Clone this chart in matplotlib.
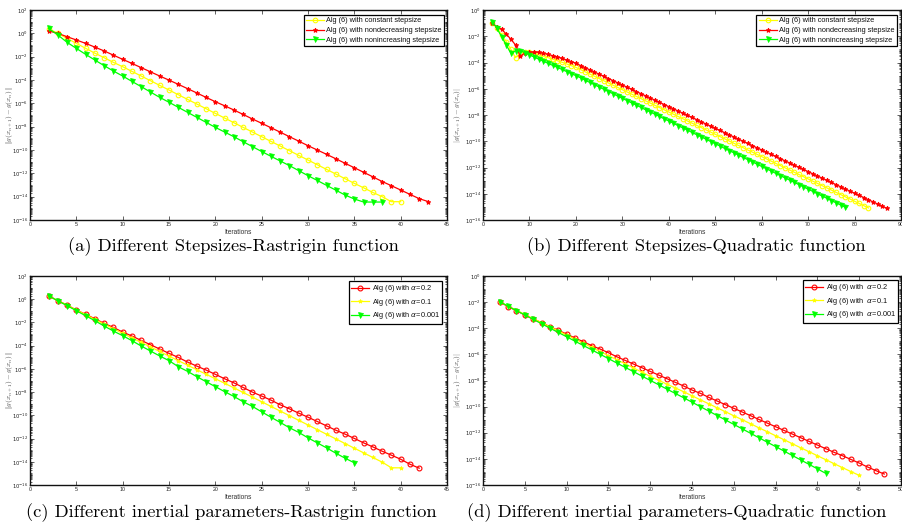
import numpy as np
import matplotlib
matplotlib.use("Agg")
import matplotlib.pyplot as plt
from matplotlib.ticker import FixedLocator, LogLocator, NullFormatter, FuncFormatter

plt.rcParams['font.family'] = ['Liberation Sans', 'DejaVu Sans']

# ---------------------------------------------------------------------------
# Residuals |g(x_{n+1}) - g(x_n)| stored as log10 values, one entry per iteration
# (first stored iteration is n = 2).
# ---------------------------------------------------------------------------

# (a) Rastrigin function, different stepsizes
rast_constant = [0.40, 0.00, -0.43, -0.86, -1.28, -1.70, -2.09, -2.49, -2.86, -3.26,
                 -3.66, -4.06, -4.46, -4.86, -5.26, -5.66, -6.06, -6.46, -6.86, -7.26,
                 -7.66, -8.06, -8.46, -8.86, -9.26, -9.66, -10.06, -10.46, -10.86, -11.26,
                 -11.66, -12.06, -12.46, -12.86, -13.24, -13.64, -14.00, -14.43, -14.43]
rast_nondecreasing = [0.20, 0.00, -0.29, -0.57, -0.86, -1.18, -1.51, -1.87, -2.23, -2.58,
                      -2.94, -3.30, -3.66, -4.01, -4.37, -4.74, -5.11, -5.49, -5.86, -6.21,
                      -6.57, -6.95, -7.34, -7.71, -8.09, -8.47, -8.86, -9.24, -9.63, -10.00,
                      -10.37, -10.75, -11.14, -11.52, -11.91, -12.30, -12.70, -13.06, -13.43,
                      -13.80, -14.17, -14.43]
rast_nonincreasing = [0.43, -0.14, -0.77, -1.29, -1.80, -2.29, -2.77, -3.23, -3.66, -4.12,
                      -4.57, -5.03, -5.49, -5.91, -6.34, -6.77, -7.20, -7.63, -8.06, -8.46,
                      -8.86, -9.29, -9.71, -10.13, -10.54, -10.94, -11.34, -11.77, -12.20,
                      -12.61, -13.03, -13.44, -13.86, -14.20, -14.46, -14.46, -14.46]

# (b) Quadratic function, different stepsizes
quad_constant = [-0.96, -1.40, -1.90, -2.41, -3.00, -3.63, -3.25, -3.17, -3.22, -3.30,
                 -3.43, -3.53, -3.63, -3.75, -3.86, -3.98, -4.11, -4.24, -4.37, -4.54,
                 -4.71, -4.88, -5.05, -5.22, -5.39, -5.56, -5.73, -5.90, -6.07, -6.24,
                 -6.41, -6.58, -6.75, -6.92, -7.09, -7.26, -7.43, -7.60, -7.77, -7.94,
                 -8.11, -8.28, -8.45, -8.62, -8.79, -8.96, -9.13, -9.30, -9.47, -9.64,
                 -9.81, -9.98, -10.15, -10.32, -10.49, -10.66, -10.83, -11.00, -11.17, -11.34,
                 -11.51, -11.68, -11.85, -12.02, -12.19, -12.36, -12.53, -12.70, -12.87, -13.04,
                 -13.21, -13.38, -13.55, -13.72, -13.89, -14.06, -14.23, -14.40, -14.57, -14.74,
                 -14.91, -15.08]
quad_nondecreasing = [-1.02, -1.27, -1.47, -1.83, -2.23, -2.66, -3.50, -3.30, -3.22, -3.20,
                      -3.22, -3.30, -3.38, -3.48, -3.58, -3.69, -3.81, -3.93, -4.06, -4.23,
                      -4.39, -4.56, -4.72, -4.89, -5.05, -5.22, -5.38, -5.55, -5.71, -5.88,
                      -6.04, -6.21, -6.37, -6.54, -6.70, -6.87, -7.03, -7.20, -7.36, -7.53,
                      -7.69, -7.86, -8.02, -8.19, -8.35, -8.52, -8.68, -8.85, -9.01, -9.18,
                      -9.34, -9.51, -9.67, -9.84, -10.00, -10.17, -10.33, -10.50, -10.66, -10.83,
                      -10.99, -11.16, -11.32, -11.49, -11.65, -11.82, -11.98, -12.15, -12.31, -12.48,
                      -12.64, -12.81, -12.97, -13.14, -13.30, -13.47, -13.63, -13.80, -13.96, -14.13,
                      -14.29, -14.46, -14.62, -14.79, -14.95, -15.12]
quad_nonincreasing = [-0.89, -1.40, -2.03, -2.66, -3.30, -3.10, -3.10, -3.25, -3.43, -3.58,
                      -3.75, -3.91, -4.06, -4.22, -4.37, -4.53, -4.69, -4.85, -5.00, -5.17,
                      -5.35, -5.52, -5.69, -5.87, -6.04, -6.21, -6.38, -6.56, -6.73, -6.90,
                      -7.08, -7.25, -7.42, -7.60, -7.77, -7.94, -8.11, -8.29, -8.46, -8.63,
                      -8.81, -8.98, -9.15, -9.33, -9.50, -9.67, -9.84, -10.02, -10.19, -10.36,
                      -10.54, -10.71, -10.88, -11.06, -11.23, -11.40, -11.57, -11.75, -11.92, -12.09,
                      -12.27, -12.44, -12.61, -12.79, -12.96, -13.13, -13.30, -13.48, -13.65, -13.82,
                      -14.00, -14.17, -14.34, -14.52, -14.69, -14.86, -15.03]

# (c) Rastrigin function, different inertial parameters
rast_alpha_02 = [0.30, -0.13, -0.50, -0.93, -1.30, -1.68, -2.08, -2.43, -2.83, -3.17,
                 -3.55, -3.92, -4.29, -4.66, -5.01, -5.41, -5.76, -6.10, -6.47, -6.85,
                 -7.20, -7.60, -8.00, -8.34, -8.69, -9.09, -9.44, -9.81, -10.16, -10.53,
                 -10.91, -11.28, -11.62, -11.99, -12.37, -12.72, -13.09, -13.43, -13.78,
                 -14.21, -14.55]
rast_alpha_01 = [0.30, -0.12, -0.52, -0.93, -1.33, -1.74, -2.14, -2.54, -2.94, -3.33,
                 -3.72, -4.11, -4.50, -4.90, -5.29, -5.68, -6.07, -6.46, -6.85, -7.24,
                 -7.63, -8.03, -8.43, -8.83, -9.23, -9.63, -10.03, -10.43, -10.83, -11.23,
                 -11.63, -12.03, -12.43, -12.83, -13.23, -13.63, -14.03, -14.52, -14.52]
rast_alpha_0001 = [0.30, -0.14, -0.55, -0.99, -1.42, -1.85, -2.31, -2.74, -3.14, -3.57,
                   -4.03, -4.46, -4.89, -5.29, -5.81, -6.21, -6.67, -7.10, -7.53, -7.96,
                   -8.37, -8.83, -9.23, -9.70, -10.16, -10.61, -11.07, -11.47, -11.94, -12.37,
                   -12.80, -13.26, -13.69, -14.09]

# (d) Quadratic function, different inertial parameters
quad_alpha_02 = [-1.97, -2.35, -2.65, -2.99, -3.29, -3.57, -3.88, -4.16, -4.44, -4.75,
                 -5.03, -5.33, -5.59, -5.87, -6.18, -6.46, -6.74, -7.02, -7.30, -7.58,
                 -7.86, -8.14, -8.42, -8.73, -8.98, -9.29, -9.57, -9.85, -10.13, -10.41,
                 -10.69, -10.98, -11.26, -11.54, -11.82, -12.10, -12.38, -12.66, -12.94, -13.22,
                 -13.50, -13.76, -14.04, -14.32, -14.62, -14.90, -15.16]
quad_alpha_01 = [-1.97, -2.30, -2.62, -2.94, -3.26, -3.58, -3.89, -4.20, -4.52, -4.83,
                 -5.15, -5.46, -5.78, -6.09, -6.41, -6.72, -7.04, -7.36, -7.68, -7.98,
                 -8.28, -8.57, -8.86, -9.17, -9.48, -9.78, -10.09, -10.39, -10.70, -11.00,
                 -11.31, -11.62, -11.92, -12.23, -12.53, -12.84, -13.15, -13.45, -13.76, -14.06,
                 -14.37, -14.67, -14.97, -15.26]
quad_alpha_0001 = [-1.97, -2.31, -2.65, -2.98, -3.32, -3.65, -3.99, -4.32, -4.65, -4.99,
                   -5.32, -5.65, -5.99, -6.32, -6.66, -6.99, -7.32, -7.66, -7.99, -8.32,
                   -8.66, -8.99, -9.32, -9.66, -10.00, -10.34, -10.68, -11.02, -11.36, -11.70,
                   -12.04, -12.38, -12.72, -13.06, -13.40, -13.74, -14.08, -14.42, -14.76, -15.11]

FIRST_ITER = 2

stepsize_labels = ["Alg (6) with constant stepsize",
                   "Alg (6) with nondecreasing stepsize",
                   "Alg (6) with nonincreasing stepsize"]
alpha_labels_c = [r"Alg (6) with $\alpha$=0.2",
                  r"Alg (6) with $\alpha$=0.1",
                  r"Alg (6) with $\alpha$=0.001"]
alpha_labels_d = [r"Alg (6) with  $\alpha$=0.2",
                  r"Alg (6) with  $\alpha$=0.1",
                  r"Alg (6) with  $\alpha$=0.001"]

captions = ["(a) Different Stepsizes-Rastrigin function",
            "(b) Different Stepsizes-Quadratic function",
            "(c) Different inertial parameters-Rastrigin function",
            "(d) Different inertial parameters-Quadratic function"]

RED, YEL, GRN = (1, 0, 0), (1, 1, 0), (0, 1, 0)

stepsize_styles = [dict(color=YEL, marker='o', mfc='none', ms=3.3, mew=0.8),
                   dict(color=RED, marker='*', ms=3.4, mew=0.7),
                   dict(color=GRN, marker='v', ms=3.6, mew=0.5)]
alpha_styles = [dict(color=RED, marker='o', mfc='none', ms=3.5, mew=0.8),
                dict(color=YEL, marker='*', ms=3.0, mew=0.6),
                dict(color=GRN, marker='v', ms=3.6, mew=0.5)]

W, H = 902, 531
fig = plt.figure(figsize=(W / 100, H / 100), dpi=100)


def px_axes(left, top, right, bottom):
    return fig.add_axes([left / W, 1 - bottom / H, (right - left) / W, (bottom - top) / H])


def log_fmt(v, pos):
    return r'$10^{%d}$' % int(round(np.log10(v)))


def setup(ax, xmax, xstep, ytop, ylabel, label_x):
    ax.set_yscale('log')
    ax.set_xlim(0, xmax)
    ax.set_ylim(1e-16, 10.0 ** ytop)
    ax.set_xticks(np.arange(0, xmax + 0.1, xstep))
    ax.yaxis.set_major_locator(FixedLocator([10.0 ** e for e in range(-16, ytop + 1, 2)]))
    ax.yaxis.set_major_formatter(FuncFormatter(log_fmt))
    ax.yaxis.set_minor_locator(LogLocator(base=10, subs=np.arange(1, 10), numticks=300))
    ax.yaxis.set_minor_formatter(NullFormatter())
    ax.tick_params(which='both', direction='in', top=True, right=True,
                   labelsize=3.8, pad=1.5, width=0.5, colors='#222222')
    ax.tick_params(which='major', length=3)
    ax.tick_params(which='minor', length=1.6)
    for s in ax.spines.values():
        s.set_linewidth(1.0)
        s.set_color('#111111')
    ax.set_xlabel('Iterations', fontsize=4.8, labelpad=1.5, color='#333333')
    ax.set_ylabel(ylabel, fontsize=5.3, color='#444444', math_fontfamily='cm')
    ax.yaxis.set_label_coords(label_x, 0.5)


def draw(ax, series, labels, styles, anchor):
    for vals, lab, st in zip(series, labels, styles):
        it = np.arange(FIRST_ITER, FIRST_ITER + len(vals))
        ax.plot(it, 10.0 ** np.asarray(vals), lw=0.9, label=lab, **st)
    leg = ax.legend(loc='upper right', bbox_to_anchor=anchor, borderaxespad=0,
                    fontsize=5.3, frameon=True, fancybox=False, edgecolor='black',
                    framealpha=1, borderpad=0.3, labelspacing=0.35, handlelength=2.5,
                    handletextpad=0.3)
    leg.get_frame().set_linewidth(0.9)
    for t in leg.get_texts():
        t.set_color('#111111')


ylab2 = r'$\|g(x_{n+1}) - g(x_n)\|$'
ylab1 = r'$|g(x_{n+1}) - g(x_n)|$'

ax_a = px_axes(30, 10, 447, 220)
setup(ax_a, 45, 5, 2, ylab2, -15 / 417)
draw(ax_a, [rast_constant, rast_nondecreasing, rast_nonincreasing],
     stepsize_labels, stepsize_styles, (0.993, 0.976))

ax_b = px_axes(483, 10, 901, 220)
setup(ax_b, 90, 10, 0, ylab1, -20 / 418)
draw(ax_b, [quad_constant, quad_nondecreasing, quad_nonincreasing],
     stepsize_labels, stepsize_styles, (0.990, 0.976))

ax_c = px_axes(30, 276, 447, 485)
setup(ax_c, 45, 5, 2, ylab2, -15 / 417)
draw(ax_c, [rast_alpha_02, rast_alpha_01, rast_alpha_0001],
     alpha_labels_c, alpha_styles, (0.988, 0.976))

ax_d = px_axes(483, 276, 901, 485)
setup(ax_d, 50, 5, 0, ylab1, -20 / 418)
draw(ax_d, [quad_alpha_02, quad_alpha_01, quad_alpha_0001],
     alpha_labels_d, alpha_styles, (0.993, 0.981))

caption_pos = [(233, 247), (696, 247), (231, 513), (677, 513)]
for (cx, cy), txt in zip(caption_pos, captions):
    fig.text(cx / W, 1 - cy / H, txt, ha='center', va='center',
             fontsize=13.3, family='cmr10')

fig.savefig('out.png', dpi=100)
